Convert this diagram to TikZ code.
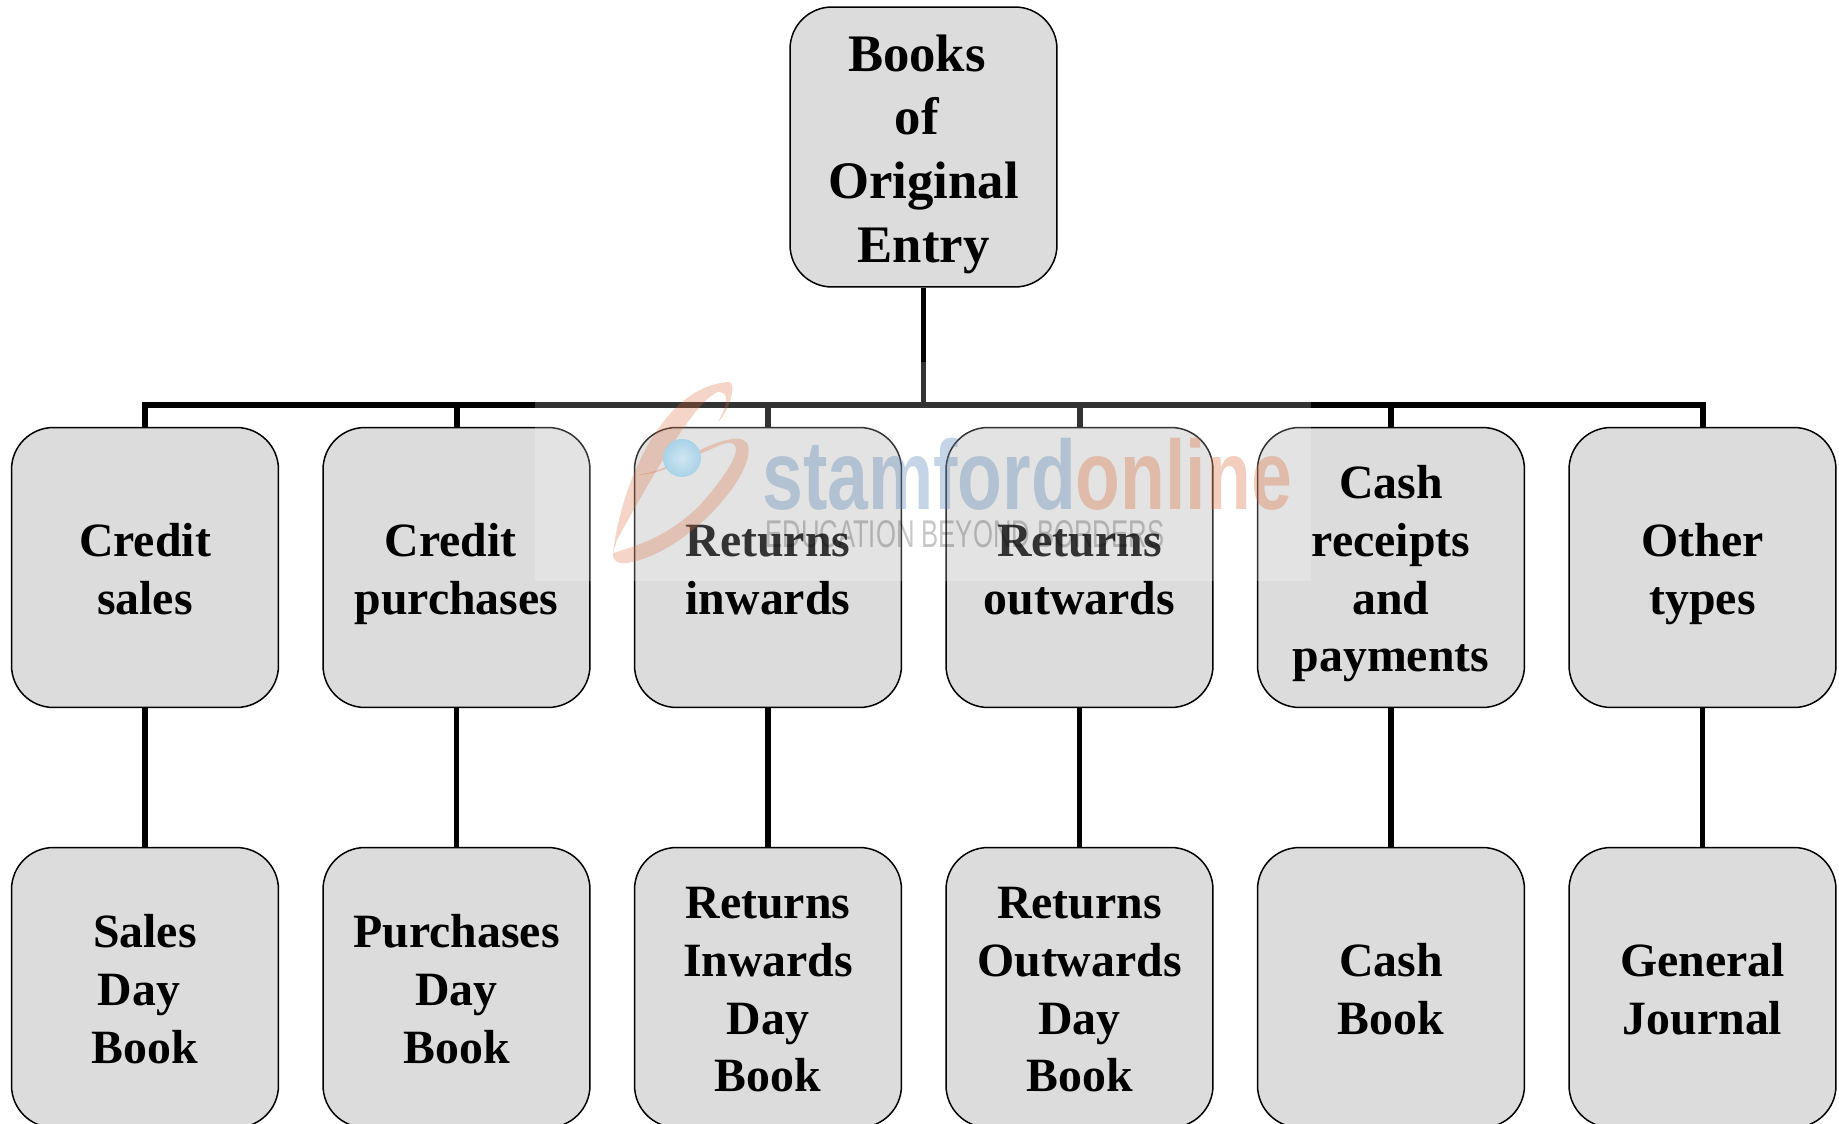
\documentclass[tikz,border=0pt]{standalone}
\usepackage{fontspec}
\setmainfont{Liberation Serif}
\newfontfamily\markfont{Liberation Sans}
\newcommand{\trail}{\kern 0.25em}
\newcommand{\topline}{\rule{0pt}{1em}}
\newcommand{\lastlinestrut}{\rule[-.25em]{0pt}{.25em}}
\definecolor{boxgrey}{HTML}{DCDCDC}
\definecolor{markblue}{HTML}{4F7FB5}
\definecolor{markorange}{HTML}{DC6A38}
\definecolor{markball}{HTML}{3F9BCB}
\tikzset{
  bookbox/.style={draw=black,fill=boxgrey,line width=0.03cm,rounded corners=0.84cm,
    minimum width=5.34cm,minimum height=5.6cm,align=center,inner sep=0pt,
    execute at end node=\lastlinestrut,
    font=\fontsize{27.2}{32.8}\selectfont\bfseries},
  topbox/.style={bookbox,font=\fontsize{30}{36.3}\selectfont\bfseries},
  link/.style={line width=0.115cm},
  buslink/.style={line width=0.12cm}
}

\begin{document}
\begin{tikzpicture}[x=0.02cm,y=0.02cm]
        \clip (0,0) rectangle (1839,-1124);
        \draw (923.5,-147) node[topbox] (books) {\topline Books\trail\\of\trail\\Original\\Entry};
        \coordinate (bus) at (923.5,-405);
        % middle row
        \draw (145,-567.5) node[bookbox] (creditsales) {\topline Credit\\sales};
        \draw (456.5,-567.5) node[bookbox] (creditpurch) {\topline Credit\trail\\purchases};
        \draw (768,-567.5) node[bookbox] (retin) {\topline Returns\\inwards};
        \draw (1079.5,-567.5) node[bookbox] (retout) {\topline Returns\\outwards};
        \draw (1391,-567.5) node[bookbox] (cashpay) {\topline Cash\\receipts\\and\\payments};
        \draw (1702.5,-567.5) node[bookbox] (othertypes) {\topline Other\\types};
        % bottom row
        \draw (145,-987.5) node[bookbox] (salesday) {\topline Sales\\Day\trail\\Book};
        \draw (456.5,-987.5) node[bookbox] (purchday) {\topline Purchases\\Day\\Book};
        \draw (768,-987.5) node[bookbox] (retinday) {\topline Returns\\Inwards\\Day\\Book};
        \draw (1079.5,-987.5) node[bookbox] (retoutday) {\topline Returns\\Outwards\\Day\\Book};
        \draw (1391,-987.5) node[bookbox] (cashbook) {\topline Cash\\Book};
        \draw (1702.5,-987.5) node[bookbox] (journal) {\topline General\\Journal};
        % links
        \draw [link] (books.south) -- (bus);
        \draw [buslink] (bus) -| (creditsales.north);
        \draw [buslink] (bus) -| (creditpurch.north);
        \draw [buslink] (bus) -| (retin.north);
        \draw [buslink] (bus) -| (retout.north);
        \draw [buslink] (bus) -| (cashpay.north);
        \draw [buslink] (bus) -| (othertypes.north);
        \draw [link] (creditsales.south) -- (salesday.north);
        \draw [link] (creditpurch.south) -- (purchday.north);
        \draw [link] (retin.south) -- (retinday.north);
        \draw [link] (retout.south) -- (retoutday.north);
        \draw [link] (cashpay.south) -- (cashbook.north);
        \draw [link] (othertypes.south) -- (journal.north);
        % watermark over everything
        \fill [white,opacity=0.2] (535,-362) rectangle (1311,-581);
        \fill [markorange,opacity=0.28] (613,-553) .. controls (620,-490) and (660,-385) .. (730,-382)
          .. controls (736,-385) and (730,-410) .. (718,-422) .. controls (730,-400) and (728,-392) .. (718,-392)
          .. controls (695,-400) and (650,-480) .. (617,-540) -- cycle;
        \fill [markorange,opacity=0.28] (613,-553) .. controls (612,-565) and (625,-564) .. (632,-562)
          .. controls (690,-550) and (760,-470) .. (747,-443) .. controls (740,-432) and (710,-445) .. (700,-450)
          .. controls (680,-460) and (660,-472) .. (637,-475) .. controls (660,-475) and (680,-462) .. (723,-444)
          .. controls (745,-438) and (740,-460) .. (700,-505) .. controls (670,-535) and (640,-545) .. (613,-553) -- cycle;
        \shade [inner color=markball!25,outer color=markball!45] (682,-458) circle (19);
        \node [anchor=base west,inner sep=0pt,opacity=0.33] (markname) at (762,-510)
          {\markfont\bfseries\fontsize{56}{60}\selectfont\scalebox{0.745}[1]{\textcolor{markblue}{stamford}\textcolor{markorange}{online}}};
        \node [anchor=base west,inner sep=0pt,opacity=0.22] (marktag) at (765,-548)
          {\markfont\fontsize{22}{26}\selectfont\scalebox{0.664}[1]{EDUCATION BEYOND BORDERS}};
        \end{tikzpicture}
\end{document}
